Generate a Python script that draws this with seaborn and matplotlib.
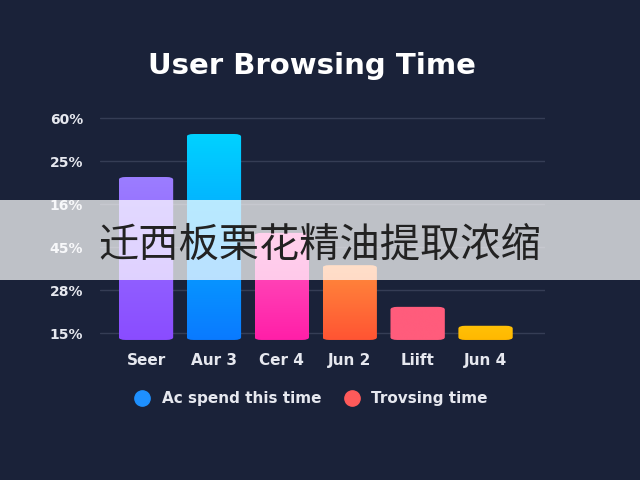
import matplotlib
matplotlib.use('Agg')
import matplotlib.pyplot as plt
import seaborn as sns
import pandas as pd
import numpy as np
from matplotlib.patches import FancyBboxPatch, Rectangle
from matplotlib.lines import Line2D
from matplotlib.colors import to_rgb

# Chart data
categories = ['Seer', 'Aur 3', 'Cer 4', 'Jun 2', 'Liift', 'Jun 4']
values = [3.79, 4.79, 2.49, 1.74, 0.77, 0.33]
tick_labels = ['15%', '28%', '45%', '16%', '25%', '60%']
legend_labels = ['Ac spend this time', 'Trovsing time']

# gradient colours (top, bottom)
top_colors = ['#9b7dff', '#00d2ff', '#ff5cc0', '#ff8c3c', '#ff5c7c', '#ffc107']
bottom_colors = ['#8a4cff', '#0a7aff', '#ff1fa8', '#ff5433', '#ff5c7c', '#ffb800']

bg = '#1a2239'
df = pd.DataFrame({'cat': categories, 'val': values})

sns.set_style('dark')
plt.rcParams['font.family'] = ['DejaVu Sans']

fig = plt.figure(figsize=(6.4, 4.8), dpi=100, facecolor=bg)
ax = fig.add_axes([0.156, 0.281, 0.695, 0.49])
ax.set_facecolor(bg)

sns.barplot(data=df, x='cat', y='val', ax=ax, width=0.8, color='#888888')

ax.set_xlim(-0.68, 5.87)
ax.set_ylim(-0.12, 5.35)
grid_pos = [0.16 + k for k in range(6)]
ax.set_yticks(grid_pos)
ax.set_yticklabels(tick_labels)
for y in grid_pos:
    ax.axhline(y, color='#353d55', lw=1.0, zorder=0)
ax.grid(False)
for s in ax.spines.values():
    s.set_visible(False)
ax.tick_params(axis='both', length=0, colors='#e6e8ef')
ax.tick_params(axis='y', pad=12, labelsize=10)
ax.tick_params(axis='x', pad=6, labelsize=11)
for lab in ax.get_xticklabels() + ax.get_yticklabels():
    lab.set_fontweight('bold')
ax.set_xlabel('')
ax.set_ylabel('')

# pixels per data unit, for round corners
fig.canvas.draw()
p0 = ax.transData.transform((0, 0))
p1 = ax.transData.transform((1, 1))
aspect = (p1[0] - p0[0]) / (p1[1] - p0[1])

for i, p in enumerate(ax.patches):
    x0, y0, w, h = p.get_x(), p.get_y(), p.get_width(), p.get_height()
    p.set_visible(False)
    c_top = np.array(to_rgb(top_colors[i]))
    c_bot = np.array(to_rgb(bottom_colors[i]))
    t = np.linspace(0, 1, 256)[:, None]
    grad = (c_bot * (1 - t) + c_top * t)[:, None, :]
    im = ax.imshow(grad, extent=[x0, x0 + w, y0, y0 + h], origin='lower',
                   aspect='auto', zorder=2, interpolation='bilinear')
    clip = FancyBboxPatch((x0, y0), w, h,
                          boxstyle='round,pad=0,rounding_size=0.1',
                          mutation_aspect=1 / aspect, transform=ax.transData,
                          facecolor='none', edgecolor='none')
    ax.add_patch(clip)
    im.set_clip_path(clip)

ax.set_xlim(-0.68, 5.87)
ax.set_ylim(-0.12, 5.35)

fig.text(0.488, 0.862, 'User Browsing Time', ha='center', va='center',
         color='white', fontsize=21, fontweight='bold')

handles = [Line2D([0], [0], marker='o', ls='', markersize=11, color='#1e90ff'),
           Line2D([0], [0], marker='o', ls='', markersize=11, color='#ff5a5a')]
fig.legend(handles, legend_labels, loc='center', bbox_to_anchor=(0.48, 0.169),
           ncol=2, frameon=False, labelcolor='#e6e8ef',
           prop={'size': 11, 'weight': 'bold'},
           handletextpad=0.3, columnspacing=1.0)

# overlay band with caption
fig.add_artist(Rectangle((0, 0.4167), 1, 0.1667, transform=fig.transFigure,
                         facecolor='white', alpha=0.72, edgecolor='none', zorder=10))
fig.text(0.5, 0.49, '迁西板栗花精油提取浓缩', ha='center', va='center',
         fontsize=29, color='#222222', zorder=11,
         family=['Noto Sans CJK SC', 'DejaVu Sans'])

fig.savefig('out.png', dpi=100, facecolor=bg)
